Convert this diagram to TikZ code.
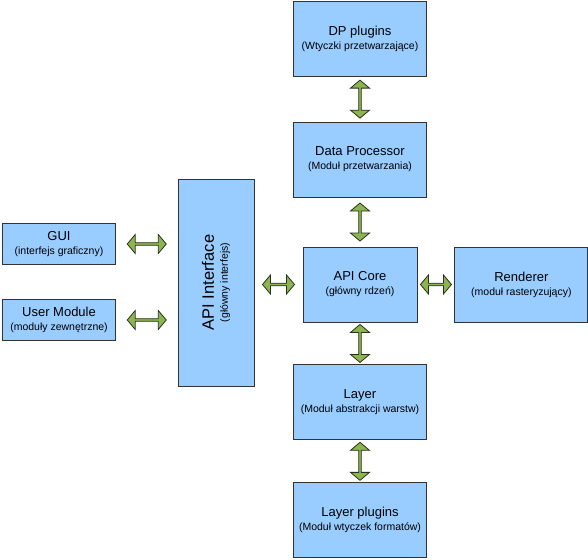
\documentclass[tikz,border=0pt]{standalone}
\usepackage{fontspec}
\setmainfont{Liberation Sans}
\usetikzlibrary{positioning,shapes.arrows}
\definecolor{boxblue}{HTML}{99CCFF}
\definecolor{arrgreen}{HTML}{8DB452}
\definecolor{arrline}{HTML}{26331A}
\newcommand{\boxttl}[1]{{\fontsize{13}{15}\selectfont #1}}

\begin{document}
\begin{tikzpicture}[x=1pt,y=1pt,font=\fontsize{10.5}{14}\selectfont,
   box/.style={draw=black!80,fill=boxblue,line width=0.9pt,align=center,minimum width=133pt,minimum height=75pt,inner sep=0pt},
   dblarr/.style={double arrow,draw=arrline,fill=arrgreen,line width=0.8pt,minimum height=38pt,minimum width=19pt,double arrow head extend=2.5pt,double arrow tip angle=100,inner sep=0pt}]
  \useasboundingbox (0,0) rectangle (588,559);
  \node[box,minimum width=114pt] (core) at (360,274.5) {\boxttl{API Core}\\(główny rdzeń)};
  \node[box,above=49pt of core] (dproc) {\boxttl{Data Processor}\\(Moduł przetwarzania)};
  \node[box,above=45pt of dproc] (dpp) {\boxttl{DP plugins}\\(Wtyczki przetwarzające)};
  \node[box,below=42pt of core] (layer) {\boxttl{Layer}\\(Moduł abstrakcji warstw)};
  \node[box,below=42pt of layer] (lplug) {\boxttl{Layer plugins}\\(Moduł wtyczek formatów)};
  \node[box,right=37pt of core] (rend) {\boxttl{Renderer}\\(moduł rasteryzujący)};
  \node[box,minimum width=207pt,minimum height=76pt,rotate=90] (api) at (216,276.5) {{\fontsize{16.5}{18}\selectfont API Interface}\\(główny interfejs)};
  \node[box,minimum width=113pt,minimum height=41pt] (gui) at (59,315) {\boxttl{GUI}\\(interfejs graficzny)};
  \node[box,minimum width=113pt,minimum height=41pt] (umod) at (59,239) {\boxttl{User Module}\\(moduły zewnętrzne)};
  % connectors
  \path (dpp.south) -- node[dblarr,rotate=90] (a1) {} (dproc.north);
  \path (dproc.south) -- node[dblarr,rotate=90] (a2) {} (core.north);
  \path (core.south) -- node[dblarr,rotate=90] (a3) {} (layer.north);
  \path (layer.south) -- node[dblarr,rotate=90] (a4) {} (lplug.north);
  \path (core.east) -- node[dblarr,minimum height=31pt] (a5) {} (rend.west);
  \path (api.south |- core) -- node[dblarr,minimum height=32pt] (a6) {} (core.west);
  \path (gui.east) -- node[dblarr,minimum height=39pt] (a7) {} (gui.east -| api.north);
  \path (umod.east) -- node[dblarr,minimum height=39pt] (a8) {} (umod.east -| api.north);
\end{tikzpicture}
\end{document}
